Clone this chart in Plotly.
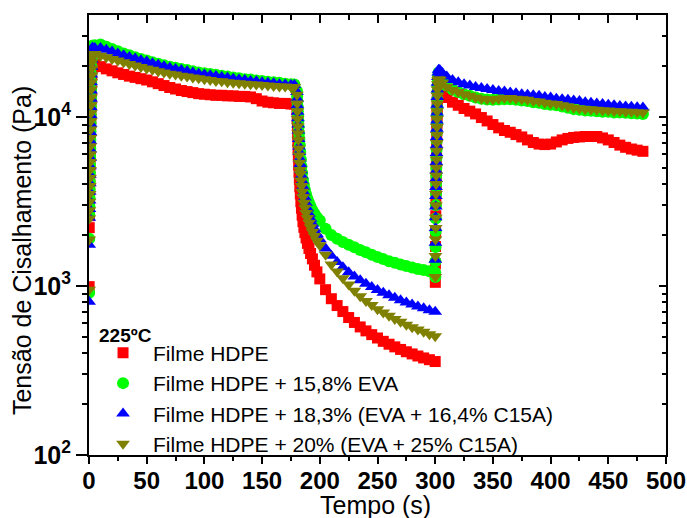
import plotly.graph_objects as go

# ---------------- data ----------------
T1 = [0.1, 0.2, 0.3, 0.4, 0.5, 0.6, 0.7, 0.8, 0.9, 1.0,
      1.1, 1.2, 1.3, 1.4, 1.5, 1.6, 1.7, 1.8, 1.9, 2.0,
      2.2, 2.4, 2.6, 2.8, 3.0,
      5, 10, 15, 20, 25, 30, 35, 40, 45, 50,
      55, 60, 65, 70, 75, 80, 85, 90, 95, 100,
      105, 110, 115, 120, 125, 130, 135, 140, 145, 150,
      155, 160, 165, 170, 175, 178]
T2 = [180.2, 180.4, 180.6, 180.8, 181.0, 181.2, 181.4, 181.7, 182.0, 182.3,
      182.7, 183.1, 183.6, 184.1, 184.7, 185.4, 186.2, 187.1, 188.1, 189.3,
      190.6, 192.0, 193.6, 195.4, 197.5,
      200, 205, 210, 215, 220, 225, 230, 235, 240, 245, 250,
      255, 260, 265, 270, 275, 280, 285, 290, 295, 300]
T3 = [300.1, 300.2, 300.3, 300.4, 300.5, 300.6, 300.7, 300.8, 300.9, 301.0,
      301.1, 301.2, 301.3, 301.4, 301.5, 301.6, 301.7, 301.8, 301.9, 302.0,
      302.3, 302.6, 303.0, 304.0, 306,
      310, 315, 320, 325, 330, 335, 340, 345, 350, 355,
      360, 365, 370, 375, 380, 385, 390, 395, 400, 405,
      410, 415, 420, 425, 430, 435, 440, 445, 450, 455,
      460, 465, 470, 475, 480]

RED_S1 = [990, 2210, 2600, 2950, 3350, 3750, 4200, 4700, 5250, 5850,
          6500, 7200, 8000, 8900, 9800, 10800, 11900, 13000, 14200, 15400,
          16700, 18000, 19200, 20200, 20800,
          20500, 19800, 19200, 18700, 18200, 17800, 17400, 17100, 16800, 16500,
          16100, 15700, 15300, 14900, 14600, 14300, 14100, 13900, 13700, 13600,
          13500, 13400, 13400, 13300, 13300, 13200, 13200, 13100, 12800, 12400,
          12200, 12100, 12000, 12000, 11900, 11900]
RED_S2 = [11000, 9800, 8800, 7900, 7100, 6400, 5800, 5200, 4700, 4250,
          3850, 3500, 3150, 2880, 2620, 2400, 2220, 2065, 1920, 1785,
          1665, 1555, 1445, 1325, 1210,
          1100, 950, 840, 765, 705, 650, 608, 572, 542, 515, 492,
          470, 452, 436, 421, 408, 396, 385, 375, 366, 357]
RED_S3 = [1050, 1350, 1710, 2100, 2600, 3100, 3600, 4100, 4650, 5250,
          5900, 6600, 7400, 8300, 9200, 10200, 11300, 12400, 13500, 14600,
          15500, 16200, 16300, 15700, 14300,
          13000, 12200, 11700, 11200, 10800, 10400, 9900, 9450, 9000, 8600,
          8300, 8100, 7850, 7600, 7300, 7050, 6900, 6850, 6900, 7100,
          7300, 7450, 7550, 7600, 7650, 7650, 7650, 7500, 7300, 7050,
          6800, 6600, 6450, 6350, 6250]

GREEN_S1 = [910, 1900, 2630, 2950, 3300, 3700, 4150, 4650, 5200, 5800,
            6500, 7300, 8200, 9200, 10300, 11500, 12900, 14400, 16000, 17800,
            19800, 21800, 23700, 25300, 26300,
            26500, 26800, 26000, 25200, 24400, 23700, 23100, 22500, 22000, 21500,
            21000, 20600, 20200, 19800, 19500, 19200, 18900, 18600, 18300, 18100,
            17900, 17700, 17500, 17300, 17100, 16900, 16700, 16600, 16400, 16300,
            16100, 16000, 15900, 15700, 15600, 15500]
GREEN_S2 = [14200, 13200, 12300, 11500, 10800, 10100, 9500, 8700, 8000, 7400,
            6800, 6200, 5600, 5100, 4650, 4250, 3950, 3700, 3480, 3280,
            3100, 2950, 2800, 2670, 2550,
            2440, 2180, 2000, 1900, 1820, 1750, 1690, 1630, 1580, 1530, 1480,
            1440, 1400, 1370, 1340, 1310, 1285, 1260, 1240, 1220, 1200]
GREEN_S3 = [1130, 1400, 1700, 2100, 2500, 3000, 3500, 4000, 4500, 5000,
            5700, 6400, 7200, 8100, 9100, 10200, 11400, 12700, 14000, 15300,
            16500, 17500, 18300, 17800, 16400,
            15300, 14500, 14000, 13600, 13300, 13000, 12800, 12650, 12600, 12650,
            12700, 12700, 12600, 12500, 12400, 12200, 12100, 11900, 11800, 11700,
            11500, 11300, 11100, 11000, 10900, 10850, 10800, 10700, 10700, 10600,
            10600, 10550, 10500, 10450, 10400]

BLUE_S1 = [807, 1750, 2530, 2850, 3200, 3600, 4050, 4550, 5100, 5700,
           6400, 7200, 8100, 9100, 10200, 11400, 12800, 14300, 16000, 17800,
           19800, 21800, 23600, 25000, 25700,
           25500, 25500, 24900, 24300, 23700, 23100, 22600, 22100, 21600, 21200,
           20700, 20300, 19900, 19500, 19200, 18900, 18600, 18300, 18000, 17800,
           17600, 17400, 17200, 17000, 16800, 16600, 16500, 16300, 16200, 16000,
           15900, 15800, 15600, 15500, 15400, 15400]
BLUE_S2 = [14000, 12800, 11700, 10700, 9800, 9000, 8300, 7400, 6680, 6190,
           5670, 5250, 4835, 4500, 4175, 3870, 3585, 3330, 3095, 2870,
           2670, 2495, 2330, 2175, 2030,
           1885, 1665, 1507, 1385, 1287, 1206, 1138, 1080, 1030, 985, 945,
           910, 879, 850, 823, 799, 777, 756, 737, 719, 703]
BLUE_S3 = [1430, 1800, 2200, 2550, 2950, 3400, 3850, 4300, 4800, 5400,
           6100, 6800, 7600, 8500, 9500, 10600, 11800, 13100, 14500, 15900,
           17200, 18300, 19000, 18900, 18200,
           17300, 16500, 16000, 15600, 15300, 15000, 14800, 14600, 14400, 14200,
           14100, 13900, 13800, 13600, 13500, 13400, 13300, 13100, 13000, 12800,
           12700, 12600, 12500, 12400, 12200, 12100, 12000, 11900, 11800, 11700,
           11600, 11500, 11450, 11400, 11350]

OLIVE_S1 = [950, 1880, 2500, 2800, 3150, 3500, 3900, 4350, 4850, 5400,
            6000, 6700, 7500, 8400, 9400, 10500, 11700, 13000, 14500, 16000,
            17600, 19300, 21000, 22500, 23400,
            23500, 23000, 22500, 22000, 21500, 21000, 20500, 20100, 19700, 19300,
            19000, 18600, 18300, 18000, 17800, 17500, 17300, 17100, 16900, 16700,
            16500, 16300, 16200, 16000, 15900, 15800, 15700, 15600, 15500, 15400,
            15300, 15200, 15100, 15100, 15000, 15000]
OLIVE_S2 = [13500, 12000, 10800, 9700, 8800, 8000, 7300, 6500, 5900, 5350,
            4850, 4600, 4200, 3900, 3600, 3350, 3100, 2900, 2700, 2520,
            2360, 2220, 2090, 1970, 1850,
            1740, 1530, 1340, 1215, 1110, 1020, 935, 870, 815, 770, 728,
            695, 665, 638, 613, 590, 570, 552, 535, 518, 503]
OLIVE_S3 = [1130, 1500, 1880, 2200, 2530, 3000, 3500, 4000, 4500, 5000,
            5600, 6300, 7000, 7800, 8700, 9700, 10800, 12000, 13300, 14500,
            15600, 16400, 16700, 16500, 15800,
            15000, 14400, 14000, 13600, 13300, 13000, 12800, 12700, 12700, 12800,
            12900, 12900, 12800, 12700, 12600, 12400, 12300, 12100, 12000, 11900,
            11700, 11500, 11300, 11200, 11100, 11050, 11000, 10900, 10900, 10800,
            10800, 10700, 10700, 10650, 10600]

SERIES_NAMES = ["Filme HDPE",
                "Filme HDPE + 15,8% EVA",
                "Filme HDPE + 18,3% (EVA + 16,4% C15A)",
                "Filme HDPE + 20% (EVA + 25% C15A)"]
LEGEND_TITLE = "225ºC"
X_TICKS = [0, 50, 100, 150, 200, 250, 300, 350, 400, 450, 500]
Y_TICKS = [100, 1000, 10000]
Y_TICK_TEXT = ["10<sup>2</sup>", "10<sup>3</sup>", "10<sup>4</sup>"]
Y_MINOR = [200, 300, 400, 500, 600, 700, 800, 900,
           2000, 3000, 4000, 5000, 6000, 7000, 8000, 9000,
           20000, 30000]
X_TITLE = "Tempo (s)"
Y_TITLE = "Tensão de Cisalhamento (Pa)"

# ---------------- figure ----------------
for seg_t, segs in ((T1, (RED_S1, GREEN_S1, BLUE_S1, OLIVE_S1)),
                    (T2, (RED_S2, GREEN_S2, BLUE_S2, OLIVE_S2)),
                    (T3, (RED_S3, GREEN_S3, BLUE_S3, OLIVE_S3))):
    for s in segs:
        assert len(s) == len(seg_t), (len(s), len(seg_t))

TIME = T1 + T2 + T3
series = [
    (RED_S1 + RED_S2 + RED_S3, "#FF0000", "square", 11),
    (GREEN_S1 + GREEN_S2 + GREEN_S3, "#00FF00", "circle", 12),
    (BLUE_S1 + BLUE_S2 + BLUE_S3, "#0000FF", "triangle-up", 12),
    (OLIVE_S1 + OLIVE_S2 + OLIVE_S3, "#808000", "triangle-down", 12),
]

FONT = "Arial, 'Liberation Sans', sans-serif"
fig = go.Figure()
for name, (vals, col, sym, sz) in zip(SERIES_NAMES, series):
    fig.add_trace(go.Scatter(x=TIME, y=vals, mode="markers", name=name,
                             marker=dict(symbol=sym, color=col, size=sz,
                                         line=dict(width=0))))

# dummy trace so the mirror axes (top / right, ticks inside) are drawn
fig.add_trace(go.Scatter(x=[], y=[], xaxis="x2", yaxis="y2", showlegend=False,
                         hoverinfo="skip"))

fig.update_layout(
    width=687, height=518,
    margin=dict(l=89, r=21, t=15, b=63, autoexpand=False),
    paper_bgcolor="white", plot_bgcolor="white",
    font=dict(family=FONT, color="black"),
    showlegend=True,
    legend=dict(x=0.007, y=-0.022, xanchor="left", yanchor="bottom",
                bgcolor="rgba(0,0,0,0)", itemwidth=50,
                font=dict(size=21, family=FONT),
                tracegroupgap=0),
    xaxis=dict(range=[0, 500], tickmode="array", tickvals=X_TICKS,
               automargin=False,
               ticks="outside", ticklen=7, tickwidth=1.5, tickcolor="black",
               showline=True, linewidth=2, linecolor="black",
               showgrid=False, zeroline=False, ticklabelstandoff=-4,
               tickfont=dict(size=24, family=FONT, weight="bold"),
               minor=dict(dtick=25, tick0=0, ticks="outside", ticklen=4,
                          tickwidth=1.5, tickcolor="black")),
    yaxis=dict(type="log", range=[2, 4.602], tickmode="array",
               tickvals=Y_TICKS, ticktext=Y_TICK_TEXT, automargin=False,
               ticks="outside", ticklen=11, tickwidth=1.5, tickcolor="black",
               showline=True, linewidth=2, linecolor="black",
               showgrid=False, zeroline=False,
               tickfont=dict(size=25, family=FONT, weight="bold"),
               minor=dict(tickmode="array", tickvals=Y_MINOR, ticks="outside",
                          ticklen=5, tickwidth=1.5, tickcolor="black")),
    xaxis2=dict(overlaying="x", side="top", anchor="y", range=[0, 500],
                automargin=False,
                tickmode="array", tickvals=X_TICKS, ticks="inside", ticklen=8,
                tickwidth=1.5, tickcolor="black", showticklabels=False,
                showline=True, linewidth=2, linecolor="black",
                showgrid=False, zeroline=False,
                minor=dict(dtick=25, tick0=0, ticks="inside", ticklen=5,
                           tickwidth=1.5, tickcolor="black")),
    yaxis2=dict(overlaying="y", side="right", anchor="x", type="log",
                automargin=False,
                range=[2, 4.602], tickmode="array", tickvals=Y_TICKS,
                ticks="inside", ticklen=7, tickwidth=1.5, tickcolor="black",
                showticklabels=False, showline=True, linewidth=2,
                linecolor="black", showgrid=False, zeroline=False,
                minor=dict(tickmode="array", tickvals=Y_MINOR, ticks="inside",
                           ticklen=4, tickwidth=1.5, tickcolor="black")),
    annotations=[
        dict(text=X_TITLE, xref="paper", yref="paper", x=0.4965, y=-0.1125,
             xanchor="center", yanchor="middle", showarrow=False,
             font=dict(size=25, family=FONT)),
        dict(text=Y_TITLE, xref="paper", yref="paper", x=-0.116, y=0.4636,
             xanchor="center", yanchor="middle", showarrow=False,
             textangle=-90, font=dict(size=25, family=FONT)),
        dict(text="<b>" + LEGEND_TITLE + "</b>", xref="paper", yref="paper",
             x=0.0139, y=0.2727, xanchor="left", yanchor="middle",
             showarrow=False, font=dict(size=19, family=FONT)),
    ],
)

fig.write_html("out.html", config={"displayModeBar": False},
               post_script="document.body.style.margin='0';"
                           "document.body.style.overflow='hidden';")
